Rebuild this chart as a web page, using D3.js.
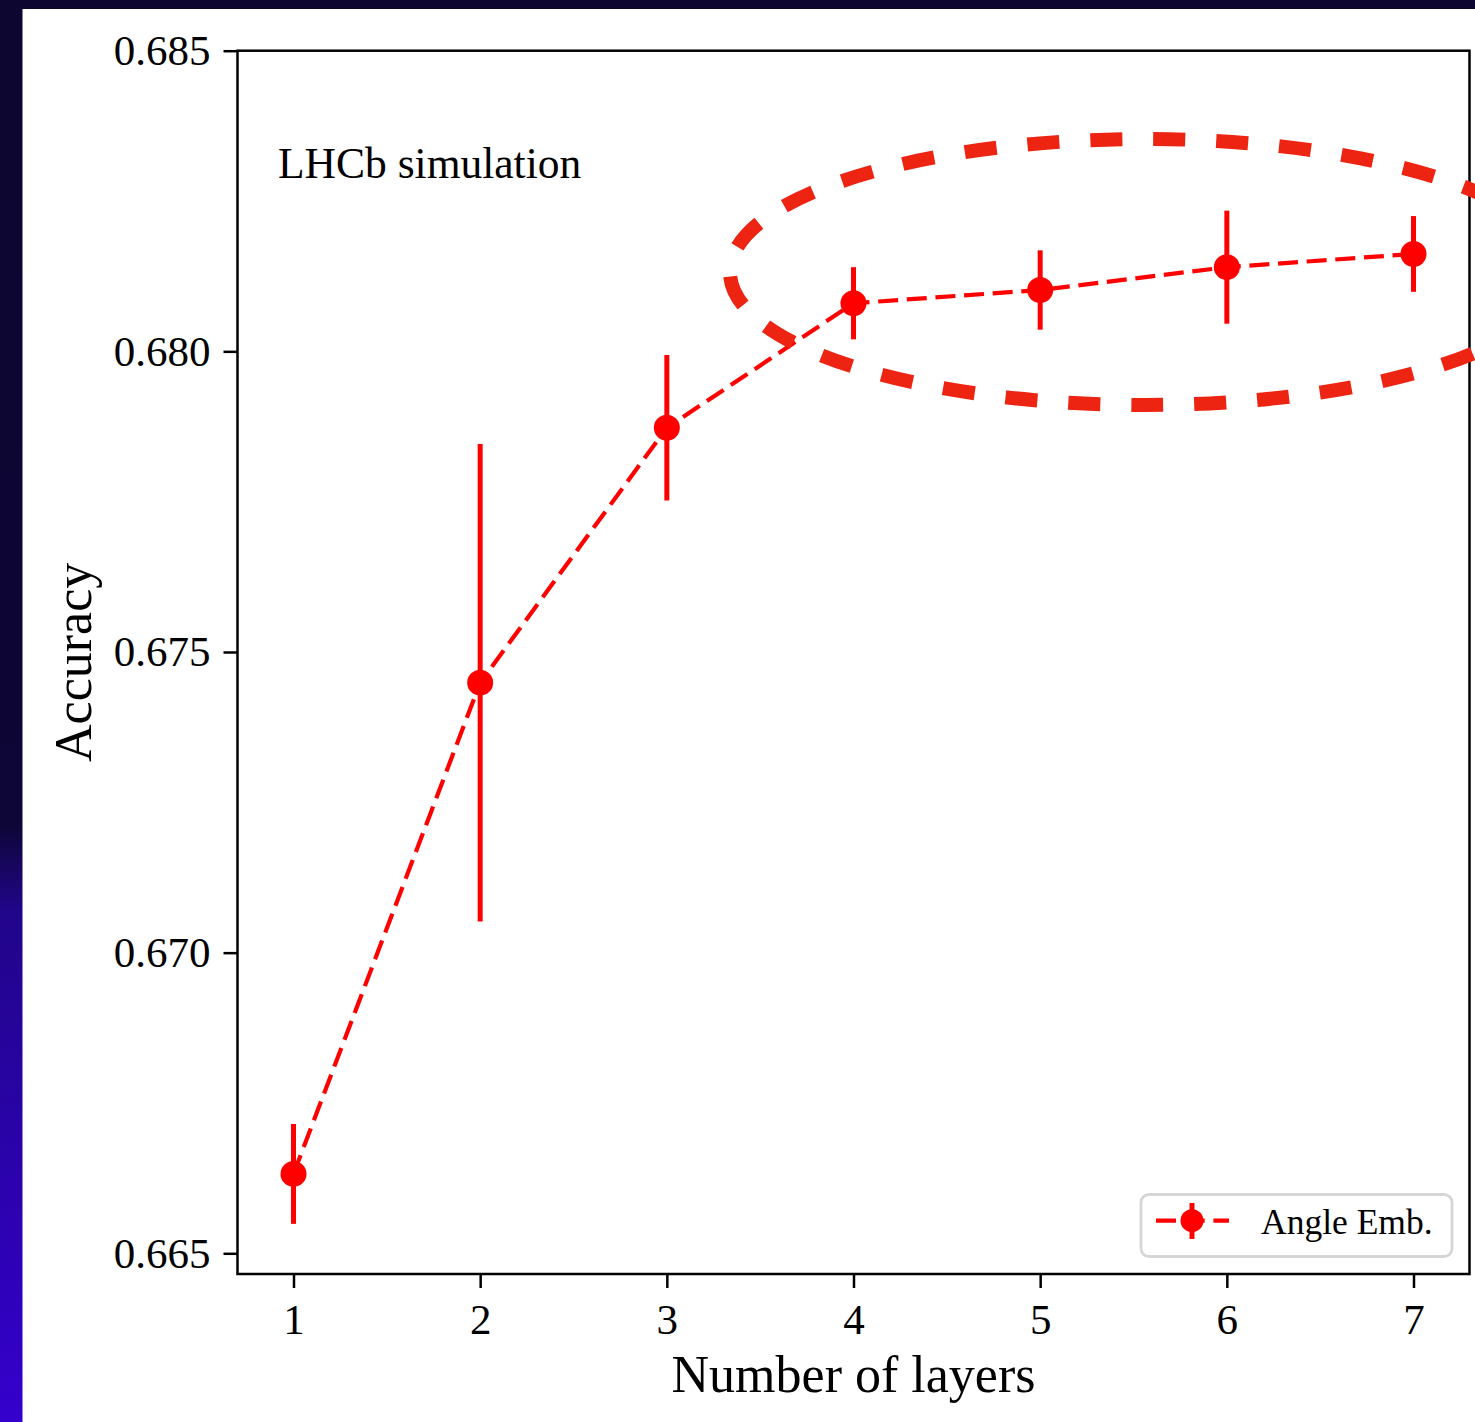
<!DOCTYPE html>
<html>
<head>
<meta charset="utf-8">
<script src="https://cdn.jsdelivr.net/npm/d3@7"></script>
<style>
  html, body { margin: 0; padding: 0; background: #ffffff; }
  svg { display: block; }
  text { font-family: "Liberation Serif", "Times New Roman", serif; fill: #000; }
</style>
</head>
<body>
<script>
// ---- data ----
const layers = [1, 2, 3, 4, 5, 6, 7];
const accuracy = [0.66632, 0.67449, 0.67873, 0.68080, 0.68102, 0.68140, 0.68162];
const accuracyErr = [0.00083, 0.00397, 0.00121, 0.00060, 0.00066, 0.00094, 0.00063];
const yTickValues = [0.665, 0.670, 0.675, 0.680, 0.685];
const xTickValues = [1, 2, 3, 4, 5, 6, 7];
const seriesLabel = "Angle Emb.";
const xTitle = "Number of layers";
const yTitle = "Accuracy";
const annotation = "LHCb simulation";

const W = 1475, H = 1422;
const plot = { left: 237.5, right: 1469.5, top: 50.7, bottom: 1274 };

const svg = d3.select("body").append("svg").attr("width", W).attr("height", H);

// frame background
const defs = svg.append("defs");
const grad = defs.append("linearGradient").attr("id", "sideGrad")
  .attr("x1", 0).attr("y1", 0).attr("x2", 0).attr("y2", 1);
grad.append("stop").attr("offset", "0").attr("stop-color", "#0c0630");
grad.append("stop").attr("offset", "0.58").attr("stop-color", "#0e0636");
grad.append("stop").attr("offset", "0.64").attr("stop-color", "#21058a");
grad.append("stop").attr("offset", "1").attr("stop-color", "#3400cc");
svg.append("rect").attr("x", 0).attr("y", 0).attr("width", W).attr("height", 9).attr("fill", "#0c0630");
svg.append("rect").attr("x", 0).attr("y", 0).attr("width", 22.5).attr("height", H).attr("fill", "url(#sideGrad)");

const x = d3.scaleLinear().domain([0.7, 7.3]).range([plot.left, plot.right]);
const y = d3.scaleLinear().domain([0.685 - (plot.bottom - plot.top) / 60130, 0.685]).range([plot.bottom, plot.top]);

// axes
const yAxis = d3.axisLeft(y).tickValues(yTickValues).tickFormat(d3.format(".3f"))
  .tickSize(14).tickSizeOuter(0).tickPadding(13);
const gy = svg.append("g").attr("transform", `translate(${plot.left},0)`).call(yAxis);
gy.select(".domain").remove();
gy.selectAll(".tick line").attr("stroke", "#000").attr("stroke-width", 2.5);
gy.selectAll(".tick text").style("font-family", "Liberation Serif").style("font-size", "43px").attr("fill", "#000");

const xAxis = d3.axisBottom(x).tickValues(xTickValues).tickFormat(d3.format("d"))
  .tickSize(14).tickSizeOuter(0).tickPadding(15);
const gx = svg.append("g").attr("transform", `translate(0,${plot.bottom})`).call(xAxis);
gx.select(".domain").remove();
gx.selectAll(".tick line").attr("stroke", "#000").attr("stroke-width", 2.5);
gx.selectAll(".tick text").style("font-family", "Liberation Serif").style("font-size", "43px").attr("fill", "#000");

// spines
svg.append("rect").attr("x", plot.left).attr("y", plot.top)
  .attr("width", plot.right - plot.left).attr("height", plot.bottom - plot.top)
  .attr("fill", "none").attr("stroke", "#000").attr("stroke-width", 2.5);

// axis titles
svg.append("text").attr("x", x(4)).attr("y", 1392).attr("text-anchor", "middle")
  .style("font-size", "52px").text(xTitle);
svg.append("text").attr("transform", `translate(91,${(plot.top + plot.bottom) / 2}) rotate(-90)`)
  .attr("text-anchor", "middle").style("font-size", "52px").text(yTitle);

// annotation text
svg.append("text").attr("x", 278).attr("y", 178).style("font-size", "43.5px").text(annotation);

const data = layers.map((l, i) => ({ x: l, y: accuracy[i], e: accuracyErr[i] }));
const red = "#ff0000";

// data line
svg.append("path").datum(data)
  .attr("d", d3.line().x(d => x(d.x)).y(d => y(d.y)))
  .attr("fill", "none").attr("stroke", red).attr("stroke-width", 4.2)
  .attr("stroke-dasharray", "20,8.7");

// error bars
svg.append("g").selectAll("line").data(data).join("line")
  .attr("x1", d => x(d.x)).attr("x2", d => x(d.x))
  .attr("y1", d => y(d.y - d.e)).attr("y2", d => y(d.y + d.e))
  .attr("stroke", red).attr("stroke-width", 5);

// markers
svg.append("g").selectAll("circle").data(data).join("circle")
  .attr("cx", d => x(d.x)).attr("cy", d => y(d.y)).attr("r", 13).attr("fill", red);

// legend
const lg = svg.append("g");
lg.append("rect").attr("x", 1141).attr("y", 1194.5).attr("width", 311).attr("height", 62)
  .attr("rx", 8).attr("fill", "#fff").attr("fill-opacity", 0.8)
  .attr("stroke", "#d6d6d6").attr("stroke-width", 2.8);
lg.append("line").attr("x1", 1156).attr("x2", 1229).attr("y1", 1220.7).attr("y2", 1220.7)
  .attr("stroke", red).attr("stroke-width", 4.2).attr("stroke-dasharray", "20,8.7");
lg.append("line").attr("x1", 1192).attr("x2", 1192).attr("y1", 1203).attr("y2", 1239)
  .attr("stroke", red).attr("stroke-width", 5);
lg.append("circle").attr("cx", 1192).attr("cy", 1220.7).attr("r", 11.5).attr("fill", red);
lg.append("text").attr("x", 1261).attr("y", 1234).style("font-size", "35.5px").text(seriesLabel);

// highlight ellipse annotation
svg.append("ellipse").attr("cx", 1145).attr("cy", 272).attr("rx", 415).attr("ry", 133)
  .attr("fill", "none").attr("stroke", "#ee2412").attr("stroke-width", 14)
  .attr("stroke-dasharray", "32,31");
</script>
</body>
</html>
